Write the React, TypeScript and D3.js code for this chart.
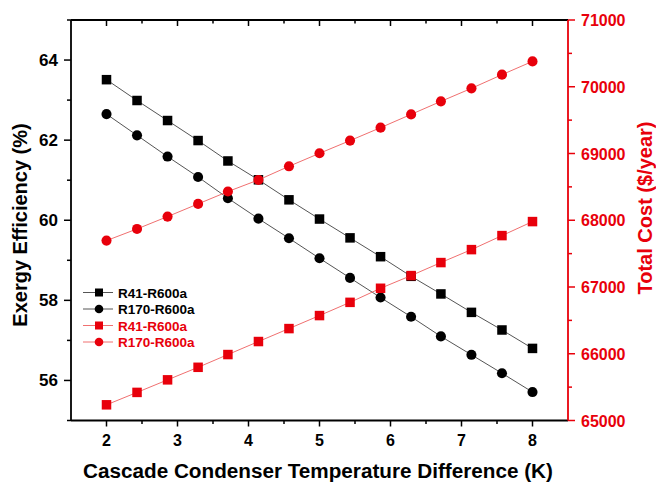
import * as d3 from "d3";

const W = 656, H = 486;
const margin = { top: 20, right: 88, bottom: 65.5, left: 71 };
const pw = W - margin.left - margin.right;
const ph = H - margin.top - margin.bottom;

const xVals = [2, 2.43, 2.86, 3.29, 3.71, 4.14, 4.57, 5, 5.43, 5.86, 6.29, 6.71, 7.14, 7.57, 8];
const effR41 = [63.51, 62.99, 62.49, 61.99, 61.48, 61.01, 60.51, 60.03, 59.56, 59.09, 58.6, 58.16, 57.7, 57.26, 56.8];
const effR170 = [62.65, 62.12, 61.59, 61.08, 60.55, 60.04, 59.55, 59.05, 58.56, 58.07, 57.59, 57.1, 56.64, 56.18, 55.71];
const costR41 = [65235, 65421, 65609, 65797, 65988, 66183, 66377, 66572, 66770, 66981, 67171, 67366, 67560, 67770, 67980];
const costR170 = [67695, 67870, 68055, 68245, 68430, 68604, 68808, 69003, 69193, 69387, 69586, 69781, 69976, 70181, 70380];

const xTicks = [2, 3, 4, 5, 6, 7, 8];
const xMinor = [2.5, 3.5, 4.5, 5.5, 6.5, 7.5];
const leftTicks = [56, 58, 60, 62, 64];
const leftMinor = [55, 57, 59, 61, 63, 65];
const rightTicks = [65000, 66000, 67000, 68000, 69000, 70000, 71000];
const rightMinor = [65500, 66500, 67500, 68500, 69500, 70500];

const legendItems = [
  { label: "R41-R600a", shape: "square", color: "#000" },
  { label: "R170-R600a", shape: "circle", color: "#000" },
  { label: "R41-R600a", shape: "square", color: "#e8000b" },
  { label: "R170-R600a", shape: "circle", color: "#e8000b" },
];

const RED = "#e8000b";
const font = "'Liberation Sans', Arial, sans-serif";

const Marker = ({ shape, x, y, color, size }: any) =>
  shape === "square" ? (
    <rect x={x - size / 2} y={y - size / 2} width={size} height={size} fill={color} />
  ) : (
    <circle cx={x} cy={y} r={size / 2 + 0.3} fill={color} />
  );

const App = () => {
  const x = d3.scaleLinear().domain([1.5, 8.5]).range([0, pw]);
  const yL = d3.scaleLinear().domain([55, 65]).range([ph, 0]);
  const yR = d3.scaleLinear().domain([65000, 71000]).range([ph, 0]);

  const lineL = d3.line<number>().x((_, i) => x(xVals[i])).y((d) => yL(d));
  const lineR = d3.line<number>().x((_, i) => x(xVals[i])).y((d) => yR(d));

  const series = [
    { data: effR41, line: lineL, y: yL, shape: "square", color: "#000", lc: "#555" },
    { data: effR170, line: lineL, y: yL, shape: "circle", color: "#000", lc: "#555" },
    { data: costR41, line: lineR, y: yR, shape: "square", color: RED, lc: "#f07070" },
    { data: costR170, line: lineR, y: yR, shape: "circle", color: RED, lc: "#f07070" },
  ];

  return (
    <svg width={W} height={H} style={{ position: "absolute", left: 0, top: 0, fontFamily: font }}>
      <rect width={W} height={H} fill="#fff" />
      <g transform={`translate(${margin.left},${margin.top})`}>
        {/* series */}
        {series.map((s, k) => (
          <g key={k}>
            <path d={s.line(s.data) as string} fill="none" stroke={s.lc} strokeWidth={1} />
            {s.data.map((d, i) => (
              <Marker key={i} shape={s.shape} x={x(xVals[i])} y={s.y(d)} color={s.color} size={9.5} />
            ))}
          </g>
        ))}

        {/* top axis, ticks inward */}
        <line x1={0} x2={pw} y1={0} y2={0} stroke="#000" strokeWidth={1.8} />
        {xTicks.map((t) => (
          <line key={"tt" + t} x1={x(t)} x2={x(t)} y1={0} y2={6} stroke="#000" strokeWidth={1.5} />
        ))}
        {xMinor.map((t) => (
          <line key={"tm" + t} x1={x(t)} x2={x(t)} y1={0} y2={3.5} stroke="#000" strokeWidth={1.5} />
        ))}

        {/* bottom axis */}
        <line x1={0} x2={pw} y1={ph} y2={ph} stroke="#000" strokeWidth={1.8} />
        {xTicks.map((t) => (
          <g key={"bt" + t}>
            <line x1={x(t)} x2={x(t)} y1={ph} y2={ph + 6} stroke="#000" strokeWidth={1.5} />
            <text x={x(t)} y={ph + 25} textAnchor="middle" fontSize={16} fontWeight="bold" fill="#000">
              {t}
            </text>
          </g>
        ))}
        {xMinor.map((t) => (
          <line key={"bm" + t} x1={x(t)} x2={x(t)} y1={ph} y2={ph + 3.5} stroke="#000" strokeWidth={1.5} />
        ))}

        {/* left axis */}
        <line x1={0} x2={0} y1={0} y2={ph} stroke="#000" strokeWidth={1.8} />
        {leftTicks.map((t) => (
          <g key={"lt" + t}>
            <line x1={-7} x2={0} y1={yL(t)} y2={yL(t)} stroke="#000" strokeWidth={1.5} />
            <text x={-13} y={yL(t) + 6} textAnchor="end" fontSize={17} fontWeight="bold" fill="#000">
              {t}
            </text>
          </g>
        ))}
        {leftMinor.map((t) => (
          <line key={"lm" + t} x1={-4} x2={0} y1={yL(t)} y2={yL(t)} stroke="#000" strokeWidth={1.5} />
        ))}

        {/* right axis */}
        <line x1={pw} x2={pw} y1={0} y2={ph} stroke={RED} strokeWidth={1.8} />
        {rightTicks.map((t) => (
          <g key={"rt" + t}>
            <line x1={pw} x2={pw + 7} y1={yR(t)} y2={yR(t)} stroke={RED} strokeWidth={1.5} />
            <text x={pw + 13} y={yR(t) + 6} textAnchor="start" fontSize={16} fontWeight="bold" fill={RED}>
              {t}
            </text>
          </g>
        ))}
        {rightMinor.map((t) => (
          <line key={"rm" + t} x1={pw} x2={pw + 4} y1={yR(t)} y2={yR(t)} stroke={RED} strokeWidth={1.5} />
        ))}

        {/* legend */}
        {legendItems.map((it, i) => {
          const ly = 272.5 + i * 16.5;
          return (
            <g key={"lg" + i}>
              <line x1={12} x2={42} y1={ly} y2={ly} stroke={it.color === RED ? "#f07070" : "#555"} strokeWidth={1} />
              <Marker shape={it.shape} x={28} y={ly} color={it.color} size={8} />
              <text x={47} y={ly + 5} fontSize={13.5} fontWeight="bold" fill={it.color}>
                {it.label}
              </text>
            </g>
          );
        })}
      </g>

      {/* axis titles */}
      <text
        transform={`translate(27,225) rotate(-90)`}
        textAnchor="middle"
        fontSize={20}
        fontWeight="bold"
        fill="#000"
      >
        Exergy Efficiency (%)
      </text>
      <text
        transform={`translate(652,208) rotate(-90)`}
        textAnchor="middle"
        fontSize={20}
        fontWeight="bold"
        fill={RED}
      >
        Total Cost ($/year)
      </text>
      <text
        x={318}
        y={478}
        textAnchor="middle"
        fontSize={20.7}
        fontWeight="bold"
        fill="#000"
      >
        Cascade Condenser Temperature Difference (K)
      </text>
    </svg>
  );
};

export default App;
